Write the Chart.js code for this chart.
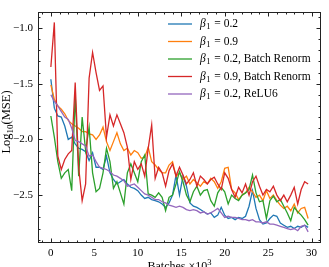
<!DOCTYPE html>
<html>
<head>
<meta charset="utf-8">
<style>
html,body{margin:0;padding:0;background:#fff;}
canvas{display:block;}
</style>
<script src="https://cdn.jsdelivr.net/npm/chart.js@4.4.1/dist/chart.umd.min.js"></script>
</head>
<body>
<canvas id="c" width="329" height="267"></canvas>
<script>
// Batches (x10^3)
const batches = [0,0.4,0.8,1.2,1.6,2,2.4,2.8,3.2,3.6,4,4.4,4.8,5.2,5.6,6,6.4,6.8,7.2,7.6,
  8,8.4,8.8,9.2,9.6,10,10.4,10.8,11.2,11.6,12,12.4,12.8,13.2,13.6,14,14.4,14.8,15.2,15.6,
  16,16.4,16.8,17.2,17.6,18,18.4,18.8,19.2,19.6,20,20.4,20.8,21.2,21.6,22,22.4,22.8,23.2,23.6,
  24,24.4,24.8,25.2,25.6,26,26.4,26.8,27.2,27.6,28,28.4,28.8,29.2,29.6];

const beta02 = [-1.46,-1.72,-1.79,-1.80,-1.88,-2.00,-1.98,-2.04,-2.08,-2.09,
  -2.11,-2.19,-2.12,-2.25,-2.25,-2.27,-2.15,-2.30,-2.36,-2.40,
  -2.38,-2.36,-2.40,-2.43,-2.44,-2.46,-2.50,-2.53,-2.52,-2.54,
  -2.55,-2.56,-2.58,-2.61,-2.57,-2.50,-2.32,-2.50,-2.33,-2.42,
  -2.57,-2.60,-2.61,-2.63,-2.65,-2.67,-2.66,-2.70,-2.68,-2.61,
  -2.68,-2.71,-2.70,-2.72,-2.70,-2.71,-2.69,-2.60,-2.46,-2.62,
  -2.72,-2.76,-2.75,-2.71,-2.68,-2.69,-2.75,-2.77,-2.79,-2.78,
  -2.80,-2.78,-2.79,-2.77,-2.79];

const beta09 = [-1.51,-1.64,-1.70,-1.73,-1.77,-1.83,-1.86,-1.88,-1.90,-1.93,
  -1.93,-1.95,-1.96,-2.00,-1.96,-1.89,-2.02,-2.10,-2.02,-1.94,
  -2.04,-2.10,-2.08,-2.14,-2.10,-2.12,-2.17,-2.16,-2.07,-2.20,
  -2.23,-2.27,-2.30,-2.30,-2.23,-2.20,-2.33,-2.30,-2.36,-2.33,
  -2.40,-2.36,-2.39,-2.42,-2.38,-2.40,-2.35,-2.38,-2.44,-2.38,
  -2.26,-2.25,-2.45,-2.48,-2.54,-2.50,-2.48,-2.43,-2.47,-2.52,
  -2.50,-2.55,-2.46,-2.53,-2.50,-2.55,-2.59,-2.62,-2.60,-2.64,
  -2.58,-2.66,-2.62,-2.61,-2.71];

const beta02Renorm = [-1.79,-1.98,-2.20,-2.35,-2.30,-2.27,-2.46,-1.60,-2.33,-1.80,
  -2.10,-1.89,-2.30,-2.47,-2.44,-2.30,-2.08,-2.20,-2.44,-2.38,
  -2.48,-2.58,-2.30,-2.22,-2.30,-2.38,-2.20,-2.14,-2.49,-2.50,
  -2.52,-2.48,-2.52,-2.64,-2.52,-2.50,-2.40,-2.29,-2.38,-2.50,
  -2.56,-2.47,-2.42,-2.50,-2.46,-2.45,-2.55,-2.60,-2.48,-2.43,
  -2.47,-2.58,-2.50,-2.53,-2.55,-2.50,-2.48,-2.45,-2.32,-2.48,
  -2.56,-2.55,-2.71,-2.55,-2.51,-2.56,-2.54,-2.60,-2.66,-2.73,
  -2.61,-2.65,-2.68,-2.72,-2.77];

const beta09Renorm = [-1.35,-0.95,-2.15,-2.27,-2.18,-2.13,-2.10,-1.49,-2.25,-2.55,
  -2.40,-1.45,-1.22,-1.40,-1.56,-1.52,-1.98,-1.78,-1.88,-1.78,
  -1.86,-1.94,-2.07,-2.36,-2.20,-2.27,-2.22,-2.33,-2.08,-1.87,
  -2.35,-2.25,-2.30,-2.42,-2.28,-2.22,-2.33,-2.25,-2.32,-2.40,
  -2.36,-2.30,-2.42,-2.33,-2.36,-2.40,-2.36,-2.34,-2.40,-2.45,
  -2.30,-2.35,-2.45,-2.52,-2.43,-2.48,-2.40,-2.50,-2.38,-2.33,
  -2.42,-2.50,-2.45,-2.47,-2.42,-2.50,-2.55,-2.50,-2.56,-2.50,
  -2.43,-2.58,-2.45,-2.38,-2.40];

const beta02Relu6 = [-1.60,-1.66,-1.70,-1.75,-1.80,-1.82,-1.90,-2.01,-2.02,-2.04,
  -2.06,-2.15,-2.14,-2.20,-2.25,-2.26,-2.27,-2.29,-2.32,-2.33,
  -2.35,-2.37,-2.42,-2.41,-2.40,-2.43,-2.46,-2.49,-2.50,-2.52,
  -2.54,-2.54,-2.56,-2.57,-2.59,-2.60,-2.61,-2.60,-2.61,-2.63,
  -2.64,-2.63,-2.64,-2.66,-2.65,-2.67,-2.66,-2.64,-2.62,-2.66,
  -2.70,-2.69,-2.70,-2.70,-2.71,-2.72,-2.72,-2.73,-2.72,-2.74,
  -2.74,-2.75,-2.74,-2.76,-2.76,-2.77,-2.78,-2.79,-2.80,-2.81,
  -2.80,-2.82,-2.78,-2.77,-2.83];

const seriesLabels = ['β₁ = 0.2','β₁ = 0.9','β₁ = 0.2, Batch Renorm','β₁ = 0.9, Batch Renorm','β₁ = 0.2, ReLU6'];
const seriesValues = [beta02, beta09, beta02Renorm, beta09Renorm, beta02Relu6];
const seriesColors = ['#1f77b4','#ff7f0e','#2ca02c','#d62728','#9467bd'];

const xTicks = [0,5,10,15,20,25,30];
const yTicks = [-2.5,-2.0,-1.5,-1.0];
const xTitle = 'Batches ×10';
const xTitleSup = '3';
const yTitle = ['Log', '10', '(MSE)'];

const SERIF = '"Liberation Serif", "DejaVu Serif", serif';

const datasets = seriesValues.map((vals, k) => ({
  label: seriesLabels[k],
  data: batches.map((b, i) => ({x: b, y: vals[i]})),
  borderColor: seriesColors[k],
  backgroundColor: seriesColors[k],
  borderWidth: 1.3,
  pointRadius: 0,
  tension: 0,
  fill: false,
  order: seriesValues.length - k
}));

const decor = {
  id: 'decor',
  afterDraw(chart) {
    const {ctx, chartArea: a, scales: {x, y}} = chart;
    ctx.save();
    ctx.strokeStyle = '#222';
    ctx.lineWidth = 1;
    const L = Math.round(a.left) + 0.5, R = Math.round(a.right) - 0.5;
    const T = Math.round(a.top) + 0.5, B = Math.round(a.bottom) - 0.5;
    ctx.strokeRect(L, T, R - L, B - T);
    ctx.beginPath();
    const maj = 4, mnr = 2;
    for (let v = -1; v <= 31; v += 1) {
      const px = Math.round(x.getPixelForValue(v)) + 0.5;
      if (px < L || px > R) continue;
      const len = (v % 5 === 0) ? maj : mnr;
      ctx.moveTo(px, B); ctx.lineTo(px, B - len);
      ctx.moveTo(px, T); ctx.lineTo(px, T + len);
    }
    for (let k = -29; k <= -9; k++) {
      const v = k / 10;
      const py = Math.round(y.getPixelForValue(v)) + 0.5;
      if (py < T || py > B) continue;
      const len = (k % 5 === 0) ? maj : mnr;
      ctx.moveTo(L, py); ctx.lineTo(L + len, py);
      ctx.moveTo(R, py); ctx.lineTo(R - len, py);
    }
    ctx.stroke();

    // legend
    const lx0 = 168, lx1 = 192, tx = 200, ty0 = 24, dy = 17.5;
    ctx.textBaseline = 'middle';
    seriesLabels.forEach((lab, k) => {
      const yy = ty0 + k * dy;
      ctx.strokeStyle = seriesColors[k];
      ctx.lineWidth = 1.3;
      ctx.beginPath();
      ctx.moveTo(lx0, yy); ctx.lineTo(lx1, yy);
      ctx.stroke();
      ctx.fillStyle = '#000';
      ctx.textAlign = 'left';
      ctx.font = 'italic 11.5px ' + SERIF;
      let cx = tx;
      ctx.fillText('β', cx, yy);
      cx += ctx.measureText('β').width + 0.5;
      ctx.font = '8.5px ' + SERIF;
      ctx.fillText('1', cx, yy + 3);
      cx += ctx.measureText('1').width + 1;
      ctx.font = '11.5px ' + SERIF;
      ctx.fillText(lab.replace('β₁', ''), cx, yy);
    });

    // x title
    ctx.fillStyle = '#000';
    ctx.textBaseline = 'alphabetic';
    ctx.font = '12px ' + SERIF;
    const w1 = ctx.measureText(xTitle).width;
    ctx.font = '8.5px ' + SERIF;
    const w2 = ctx.measureText(xTitleSup).width;
    const xc = (a.left + a.right) / 2;
    let sx = xc - (w1 + w2) / 2;
    ctx.font = '12px ' + SERIF;
    ctx.textAlign = 'left';
    ctx.fillText(xTitle, sx, 270);
    ctx.font = '8.5px ' + SERIF;
    ctx.fillText(xTitleSup, sx + w1, 265);

    // y title
    ctx.save();
    ctx.translate(10, 122);
    ctx.rotate(-Math.PI / 2);
    ctx.font = '12.5px ' + SERIF;
    const a1 = ctx.measureText(yTitle[0]).width;
    const a3 = ctx.measureText(yTitle[2]).width;
    ctx.font = '9px ' + SERIF;
    const a2 = ctx.measureText(yTitle[1]).width;
    let ux = -(a1 + a2 + a3) / 2;
    ctx.font = '12.5px ' + SERIF;
    ctx.fillText(yTitle[0], ux, 0); ux += a1;
    ctx.font = '9px ' + SERIF;
    ctx.fillText(yTitle[1], ux, 2.5); ux += a2;
    ctx.font = '12.5px ' + SERIF;
    ctx.fillText(yTitle[2], ux, 0);
    ctx.restore();

    ctx.restore();
  }
};

new Chart(document.getElementById('c'), {
  type: 'line',
  data: {datasets},
  options: {
    responsive: false,
    animation: false,
    devicePixelRatio: 1,
    layout: {padding: {left: 0, top: 7, right: 8, bottom: 0}},
    plugins: {legend: {display: false}, tooltip: {enabled: false}, title: {display: false}},
    scales: {
      x: {
        type: 'linear',
        min: -1.48, max: 31.08,
        afterFit: s => { s.height = 24; },
        afterBuildTicks: s => { s.ticks = xTicks.map(v => ({value: v})); },
        grid: {display: false, drawTicks: false},
        border: {display: false},
        ticks: {
          includeBounds: false,
          padding: 4,
          color: '#000',
          font: {family: SERIF, size: 11},
          maxRotation: 0,
          callback: v => String(v)
        }
      },
      y: {
        type: 'linear',
        min: -2.93, max: -0.853,
        afterFit: s => { s.width = 38; },
        afterBuildTicks: s => { s.ticks = yTicks.map(v => ({value: v})); },
        grid: {display: false, drawTicks: false},
        border: {display: false},
        ticks: {
          includeBounds: false,
          padding: 5,
          color: '#000',
          font: {family: SERIF, size: 11},
          callback: v => v.toFixed(1).replace('-', '\u2212')
        }
      }
    }
  },
  plugins: [decor]
});
</script>
</body>
</html>
